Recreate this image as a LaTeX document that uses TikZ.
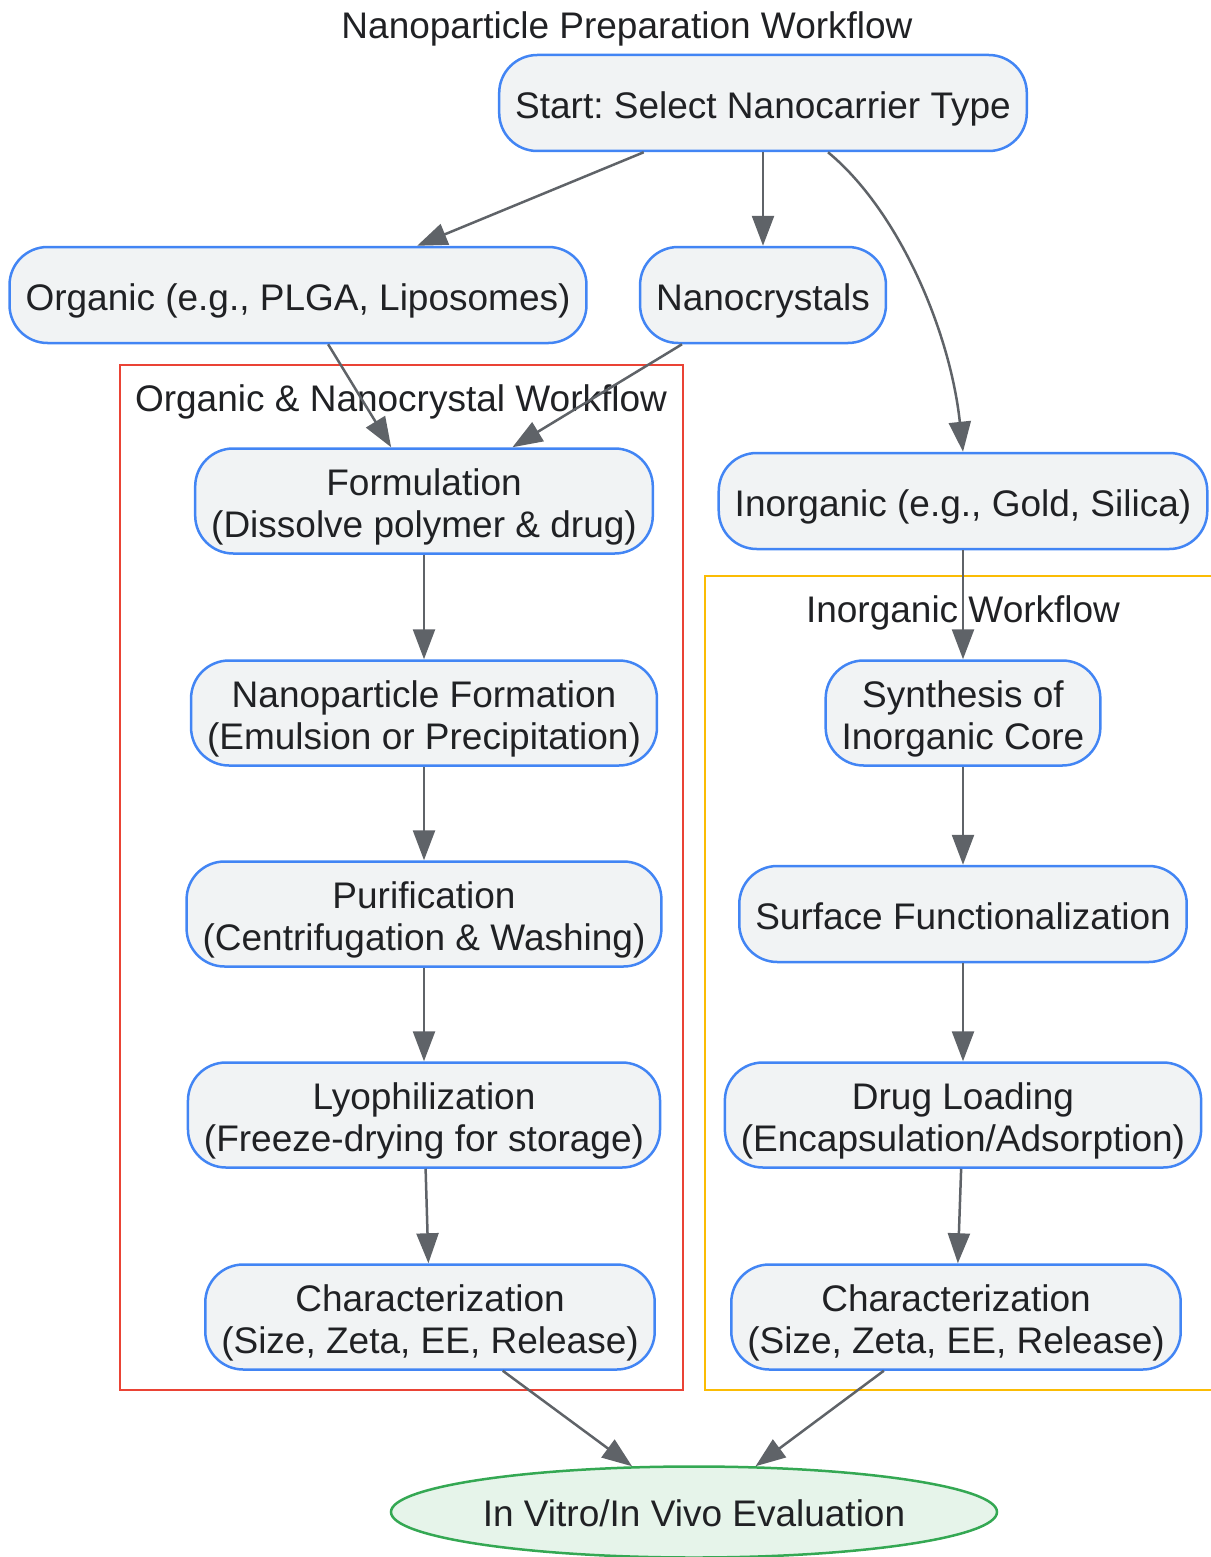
\documentclass[tikz,border=0pt]{standalone}
\usepackage{fontspec}
\setmainfont{Liberation Sans}
\frenchspacing
\usetikzlibrary{arrows.meta,positioning,shapes.geometric}
\definecolor{boxfill}{HTML}{F1F3F4}
\definecolor{boxline}{HTML}{4285F4}
\definecolor{edgegray}{HTML}{5F6368}
\definecolor{orgred}{HTML}{EA4335}
\definecolor{inorgyellow}{HTML}{FBBC04}
\definecolor{evalgreen}{HTML}{34A853}
\definecolor{evalfill}{HTML}{E6F4EA}
\definecolor{txtgray}{HTML}{202124}
\newcommand{\diagfont}{\fontsize{37pt}{42pt}\selectfont}
\tikzset{
    %Define standard arrow tip
    >={Triangle[length=30pt,width=22pt]},
    %Define style for process boxes
    proc/.style={
           rectangle,
           rounded corners=38pt,
           draw=boxline, line width=2.5pt,
           fill=boxfill,
           inner xsep=16pt, inner ysep=0pt,
           minimum height=96pt,
           text height=39pt, text depth=8pt,
           font=\diagfont,
           text=txtgray,
           align=center},
    proctall/.style={
           proc,
           minimum height=105pt,
           text height=81pt},
    evalnode/.style={
           ellipse,
           draw=evalgreen, line width=2.5pt,
           fill=evalfill,
           inner sep=0pt,
           minimum width=606pt,
           minimum height=91pt,
           text height=36pt, text depth=8pt,
           font=\diagfont,
           text=txtgray},
    grouplabel/.style={
           font=\diagfont,
           text=txtgray},
    % Define arrow style
    pil/.style={
           ->,
           draw=edgegray,
           line width=2.5pt}
}
\begin{document}
\begin{tikzpicture}[x=1pt,y=-1pt]
\useasboundingbox (0,0) rectangle (1210,1557);
% subgraph frames
\draw[orgred, line width=2.7pt] (120,365) rectangle (683,1390);
\draw[inorgyellow, line width=2.7pt] (705,576) rectangle (1230,1390);
\node[grouplabel] (orgtitle) at (401,402) {Organic \& Nanocrystal Workflow};
\node[grouplabel] (inorgtitle) at (963,613) {Inorganic Workflow};
\node[grouplabel] (title) at (627,29) {Nanoparticle Preparation Workflow};
% nodes
\node[proc] (start) at (763,103) {Start: Select Nanocarrier Type};
\node[proc] (org) at (298,295) {Organic (e.g., PLGA, Liposomes)};
\node[proc] (nano) at (763,295) {Nanocrystals};
\node[proc] (inorg) at (963,501) {Inorganic (e.g., Gold, Silica)};
\node[proctall] (form) at (424,501) {Formulation\\(Dissolve polymer \& drug)};
\node[proctall] (npform) at (424,713) {Nanoparticle Formation\\(Emulsion or Precipitation)};
\node[proctall] (purif) at (424,914) {Purification\\(Centrifugation \& Washing)};
\node[proctall] (lyo) at (424,1115) {Lyophilization\\(Freeze-drying for storage)};
\node[proctall] (charorg) at (430,1317) {Characterization\\(Size, Zeta, EE, Release)};
\node[proctall] (synth) at (963,713) {Synthesis of\\Inorganic Core};
\node[proc] (surf) at (963,914) {Surface Functionalization};
\node[proctall] (load) at (963,1115) {Drug Loading\\(Encapsulation/Adsorption)};
\node[proctall] (charinorg) at (956,1317) {Characterization\\(Size, Zeta, EE, Release)};
\node[evalnode] (eval) at (694,1512) {In Vitro/In Vivo Evaluation};
\coordinate (startexit) at ([xshift=65pt]start.south);
% connectors
\draw[pil] (start) -- (org);
\draw[pil] (start) -- (nano);
\draw[pil] (startexit) .. controls (898,210) and (950,330) .. (inorg.north);
\draw[pil] (org) -- (form);
\draw[pil] (nano) -- (form);
\draw[pil] (form) -- (npform);
\draw[pil] (npform) -- (purif);
\draw[pil] (purif) -- (lyo);
\draw[pil] (lyo) -- (charorg);
\draw[pil] (inorg) -- (synth);
\draw[pil] (synth) -- (surf);
\draw[pil] (surf) -- (load);
\draw[pil] (load) -- (charinorg);
\draw[pil] (charorg) -- (eval);
\draw[pil] (charinorg) -- (eval);
\end{tikzpicture}
\end{document}
